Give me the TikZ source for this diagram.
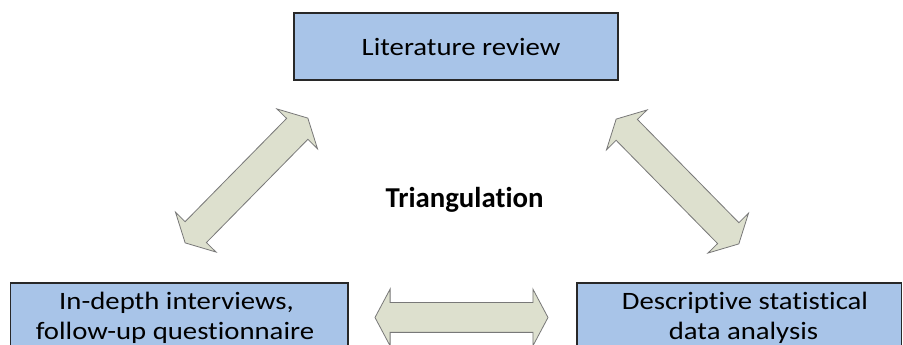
\documentclass[tikz,border=0pt]{standalone}
\usepackage{fontspec}
\setmainfont{Carlito}[Ligatures=NoCommon]
\newfontfamily\boxfont{Carlito}[FakeStretch=1.15, Ligatures=NoCommon]
\usetikzlibrary{shapes.arrows}
\definecolor{boxfill}{RGB}{168,196,232}
\definecolor{boxline}{RGB}{40,40,40}
\definecolor{arrfill}{RGB}{221,224,206}
\definecolor{arrline}{RGB}{120,120,120}
\tikzset{
  box/.style={draw=boxline, line width=1.4pt, fill=boxfill, inner sep=0pt},
  btext/.style={font=\boxfont\fontsize{25}{30}\selectfont, inner sep=0pt, anchor=base},
  darr/.style={double arrow, draw=arrline, line width=0.8pt, fill=arrfill,
    inner xsep=0pt, inner ysep=14.5pt, double arrow head extend=13.5pt,
    double arrow tip angle=124},
}
\begin{document}
\begin{tikzpicture}[x=1pt,y=1pt]
\clip (0,0) rectangle (903,345);
\fill[white] (0,0) rectangle (903,345);
% boxes
\node[box, minimum width=324pt, minimum height=67pt] (lit) at (456,298.5) {};
\node[box, minimum width=337.5pt, minimum height=90pt] (int) at (179.25,17) {};
\node[box, minimum width=324.5pt, minimum height=90pt] (stat) at (739.25,17) {};
% texts
\node[btext] (littxt) at (461,289) {Literature review};
\node[btext] (int1) at (176.5,35.7) {In-depth interviews,};
\node[btext] (int2) at (175,5) {follow-up questionnaire};
\node[btext] (stat1) at (745,35.7) {Descriptive statistical};
\node[btext] (stat2) at (743.5,5) {data analysis};
\node[font=\bfseries\fontsize{28.8}{34}\selectfont, inner sep=0pt, anchor=base] (tri) at (464.5,137) {Triangulation};
% arrows
\node[darr, minimum height=175pt, rotate=45.5] (a1) at (246.5,164.5) {};
\node[darr, minimum height=175pt, rotate=-45.5] (a2) at (677.5,163.5) {};
\node[darr, minimum height=173pt] (a3) at (461.5,27.5) {};
\end{tikzpicture}
\end{document}
